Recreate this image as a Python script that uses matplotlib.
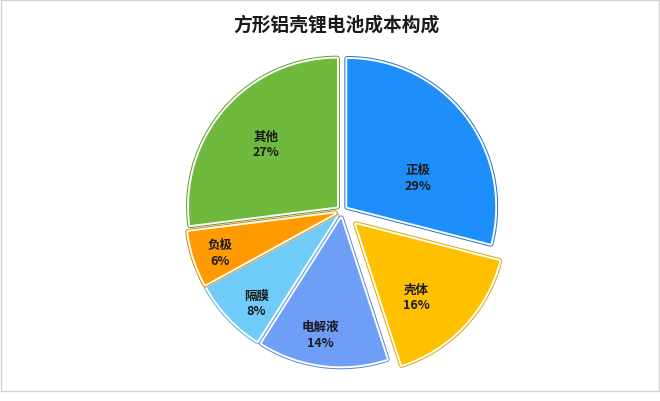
import matplotlib
matplotlib.use('Agg')
import matplotlib.pyplot as plt
import matplotlib.patheffects as pe
import numpy as np
from matplotlib.patches import Rectangle

plt.rcParams['font.family'] = ['Noto Sans CJK SC', 'DejaVu Sans']

# data
parts = ['正极', '壳体', '电解液', '隔膜', '负极', '其他']
shares = [29, 16, 14, 8, 6, 27]
explode = [0.045, 0.13, 0.05, 0.05, 0.05, 0.045]

fills = ['#1E8EFA', '#FFC000', '#6E9EF5', '#6FCBF8', '#FF9A00', '#6FB93C']
edges = ['#1A76D2', '#DCA600', '#5A86D8', '#58B0DC', '#DD8400', '#5A9E30']

# label placement (distance from wedge tip, turn from mid angle in degrees)
label_r = [0.52, 0.64, 0.80, 0.80, 0.82, 0.64]
label_turn = [-15, -7, -3, 4, 1, 0]

fig = plt.figure(figsize=(6.6, 4.02), dpi=100)
fig.patch.set_facecolor('white')

# light frame around the chart
fig.add_artist(Rectangle((0.0015, 0.025), 0.997, 0.973, transform=fig.transFigure,
                         fill=False, edgecolor='#d4d4d4', linewidth=1.0))

R = 148
cx, cy = 342, 212
half = 1.25 * R
ax = fig.add_axes([(cx - half) / 660, (402 - cy - half) / 402,
                   2 * half / 660, 2 * half / 402])

wedges, _ = ax.pie(shares, explode=explode, colors=fills, startangle=90,
                   counterclock=False, wedgeprops=dict(linewidth=0))

for w, ec in zip(wedges, edges):
    w.set_path_effects([pe.Stroke(linewidth=4.2, foreground=ec, joinstyle='round'),
                        pe.Stroke(linewidth=2.8, foreground='white', joinstyle='round'),
                        pe.Normal()])

for w, name, val, r, turn in zip(wedges, parts, shares, label_r, label_turn):
    mid = np.deg2rad((w.theta1 + w.theta2) / 2 + turn)
    x = w.center[0] + r * np.cos(mid)
    y = w.center[1] + r * np.sin(mid)
    ax.text(x, y, f'{name}\n{val}%', ha='center', va='center', fontsize=9,
            fontweight='bold', color='#1a1a1a', linespacing=1.3)

ax.set_xlim(-1.25, 1.25)
ax.set_ylim(-1.25, 1.25)
ax.set_aspect('equal')
ax.axis('off')

fig.text(336 / 660, 1 - 25 / 402, '方形铝壳锂电池成本构成', ha='center', va='center',
         fontsize=13.5, fontweight='bold', color='#1a1a1a')

fig.savefig('out.png', dpi=100, facecolor='white')
